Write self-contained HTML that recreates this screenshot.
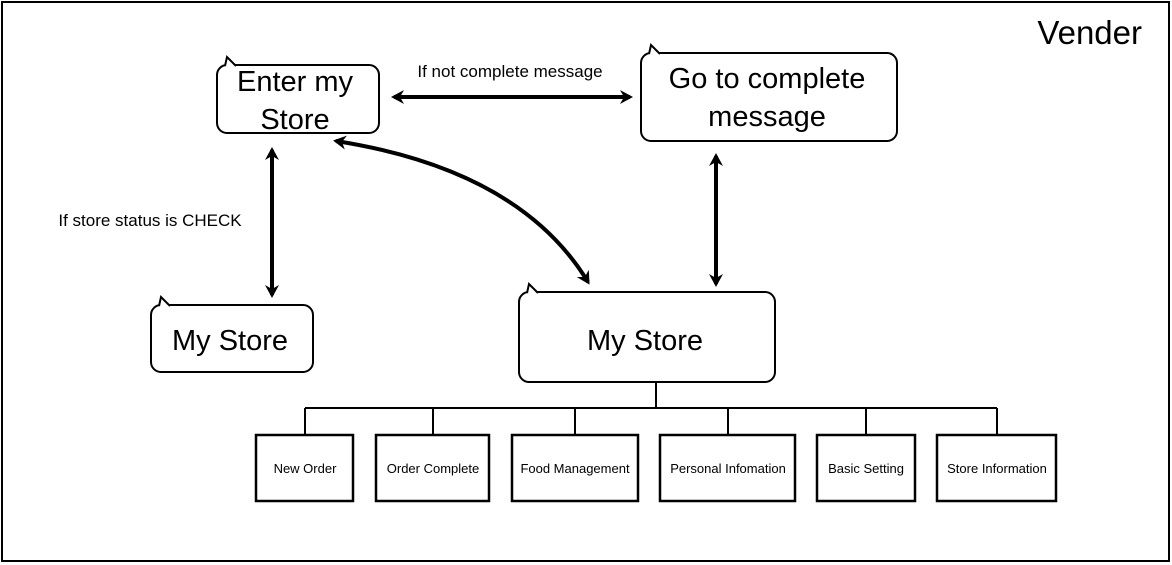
<!DOCTYPE html>
<html><head><meta charset="utf-8"><style>
html,body{margin:0;padding:0;background:#fff;}
svg{display:block;}
text{font-family:"Liberation Sans",sans-serif;fill:#000;}
</style></head><body>
<svg width="1172" height="565" viewBox="0 0 1172 565">
<defs>
<marker id="ah" markerWidth="16" markerHeight="16" refX="10" refY="7" orient="auto-start-reverse" markerUnits="userSpaceOnUse">
<path d="M0,0 L13,7 L0,14 L4,7 Z" fill="#000"/>
</marker>
</defs>
<rect x="2" y="2" width="1167" height="559" fill="#fff" stroke="#000" stroke-width="2"/>
<text x="1142" y="44" font-size="33" text-anchor="end">Vender</text>

<g fill="#fff" stroke="#000" stroke-width="2">
<rect x="217" y="65" width="162" height="68" rx="10"/>
<rect x="641" y="53" width="256" height="88" rx="10"/>
<rect x="151" y="305" width="162" height="67" rx="10"/>
<rect x="519" y="292" width="256" height="90" rx="10"/>
</g>
<g fill="#fff" stroke="#000" stroke-width="2">
<path d="M225,66 L227,57 L236,66"/>
<path d="M649,54 L651,45 L660,54"/>
<path d="M159,306 L161,297 L170,306"/>
<path d="M527,293 L529,284 L538,293"/>
</g>
<g font-size="29" text-anchor="middle">
<text x="295" y="91">Enter my</text>
<text x="295" y="129">Store</text>
<text x="767" y="88">Go to complete</text>
<text x="767" y="126">message</text>
<text x="230" y="350">My Store</text>
<text x="645" y="350">My Store</text>
</g>

<g stroke="#000" stroke-width="4" fill="none">
<line x1="394" y1="97" x2="630" y2="97" marker-start="url(#ah)" marker-end="url(#ah)"/>
<line x1="272" y1="150" x2="272" y2="295" marker-start="url(#ah)" marker-end="url(#ah)"/>
<line x1="716" y1="156" x2="716" y2="284" marker-start="url(#ah)" marker-end="url(#ah)"/>
<path d="M336,141 Q520,170 588,282" marker-start="url(#ah)" marker-end="url(#ah)"/>
</g>
<text x="510" y="77" font-size="17" text-anchor="middle">If not complete message</text>
<text x="150" y="226" font-size="17" text-anchor="middle">If store status is CHECK</text>

<g stroke="#000" stroke-width="2" fill="none">
<line x1="656" y1="382" x2="656" y2="408"/>
<line x1="305" y1="408" x2="997" y2="408"/>
<line x1="305" y1="408" x2="305" y2="435"/>
<line x1="433" y1="408" x2="433" y2="435"/>
<line x1="575" y1="408" x2="575" y2="435"/>
<line x1="728" y1="408" x2="728" y2="435"/>
<line x1="866" y1="408" x2="866" y2="435"/>
<line x1="997" y1="408" x2="997" y2="435"/>
</g>
<g fill="#fff" stroke="#000" stroke-width="2.5">
<rect x="256" y="435" width="97" height="66"/>
<rect x="376" y="435" width="113" height="66"/>
<rect x="512" y="435" width="126" height="66"/>
<rect x="660" y="435" width="135" height="66"/>
<rect x="817" y="435" width="98" height="66"/>
<rect x="937" y="435" width="119" height="66"/>
</g>
<g font-size="13" text-anchor="middle">
<text x="305" y="473">New Order</text>
<text x="433" y="473">Order Complete</text>
<text x="575" y="473">Food Management</text>
<text x="728" y="473">Personal Infomation</text>
<text x="866" y="473">Basic Setting</text>
<text x="997" y="473">Store Information</text>
</g>
</svg>
</body></html>
